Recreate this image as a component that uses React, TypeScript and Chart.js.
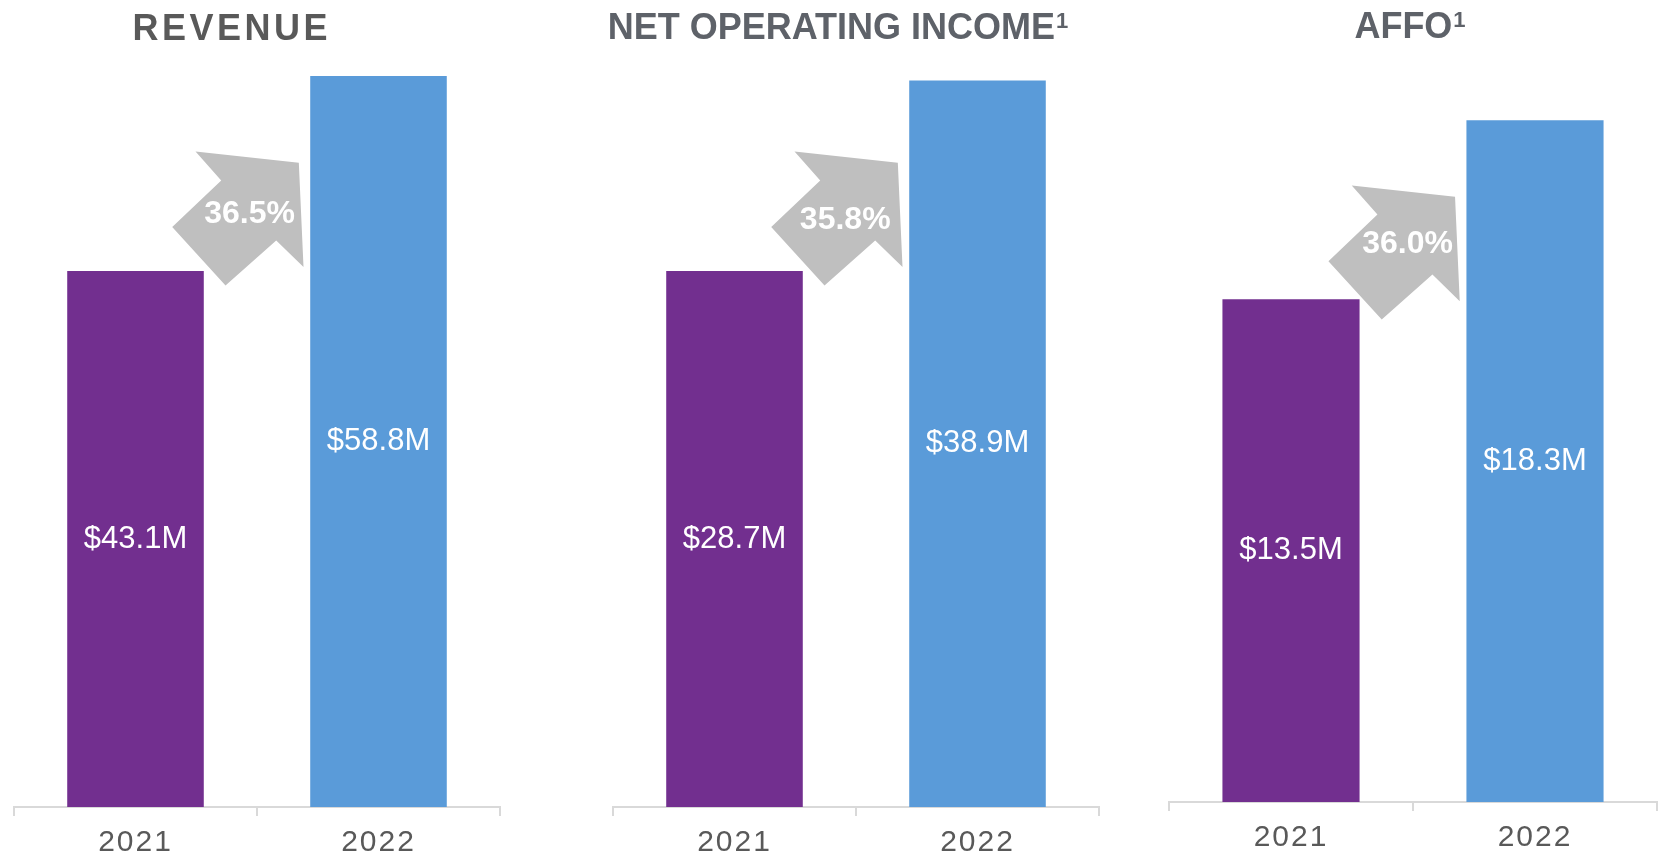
import React, { useEffect, useRef } from 'react';
import { Chart, registerables } from 'chart.js';

Chart.register(...registerables);

// ---- data ----
const categories = ['2021', '2022'];
const revenueValues = [43.1, 58.8];
const noiValues = [28.7, 38.9];
const affoValues = [13.5, 18.3];
const growthLabels = ['36.5%', '35.8%', '36.0%'];
const panelTitles = ['REVENUE', 'NET OPERATING INCOME', 'AFFO'];
const titleFootnotes = ['', '1', '1'];
const axisMax = [60, 40, 20];

// ---- styles ----
const FONT = '"Liberation Sans", Arial, Helvetica, sans-serif';
const BAR_COLORS = ['#722F8F', '#5A9BD9'];
const ARROW_COLOR = '#BFBFBF';
const AXIS_COLOR = '#D9D9D9';
const TICK_COLOR = '#595959';

// arrow polygon relative to (left edge of 2022 bar, top of 2021 bar)
const arrowShape: [number, number][] = [
  [-11.4, -108.3],
  [-6.7, -4],
  [-34, -30.6],
  [-84.7, 14.4],
  [-138, -44],
  [-89, -90.6],
  [-114.7, -119.6],
];

const layouts = [
  { left: 0, width: 520, padL: 14, padR: 20, padT: 61, padB: 0, titleDx: -27, titleY: 40, titleColor: '#595959', spacing: 3.5, pctDx: -60.7, pctDy: -57, arrowDy: 0 },
  { left: 560, width: 560, padL: 53, padR: 21, padT: 60, padB: 0, titleDx: -18, titleY: 39, titleColor: '#5E6269', spacing: 0, pctDx: -64, pctDy: -50.5, arrowDy: 0 },
  { left: 1130, width: 533, padL: 39, padR: 6, padT: 57, padB: 5, titleDx: -3, titleY: 37.5, titleColor: '#5E6269', spacing: 0, pctDx: -58.8, pctDy: -61, arrowDy: 6 },
];

function Panel({ index, values }: { index: number; values: number[] }) {
  const ref = useRef<HTMLCanvasElement>(null);
  useEffect(() => {
    const L = layouts[index];
    const decor = {
      id: 'decor' + index,
      beforeDraw(chart: any) {
        (chart.ctx as any).letterSpacing = '2px';
      },
      beforeDatasetsDraw(chart: any) {
        (chart.ctx as any).letterSpacing = '0px';
      },
      afterDatasetsDraw(chart: any) {
        const ctx = chart.ctx as CanvasRenderingContext2D;
        const meta = chart.getDatasetMeta(0);
        ctx.save();
        (ctx as any).letterSpacing = '0px';
        // value labels
        ctx.fillStyle = '#FFFFFF';
        ctx.font = `31px ${FONT}`;
        ctx.textAlign = 'center';
        ctx.textBaseline = 'middle';
        meta.data.forEach((bar: any, i: number) => {
          const p = bar.getProps(['x', 'y', 'base'], true);
          ctx.fillText(`$${values[i].toFixed(1)}M`, p.x, (p.y + p.base) / 2);
        });
        // growth arrow
        const p1 = meta.data[0].getProps(['x', 'y', 'width'], true);
        const p2 = meta.data[1].getProps(['x', 'y', 'width'], true);
        const ax = p2.x - p2.width / 2;
        const ay = p1.y + L.arrowDy;
        ctx.beginPath();
        arrowShape.forEach(([dx, dy], k) => {
          if (k === 0) ctx.moveTo(ax + dx, ay + dy);
          else ctx.lineTo(ax + dx, ay + dy);
        });
        ctx.closePath();
        ctx.fillStyle = ARROW_COLOR;
        ctx.fill();
        ctx.fillStyle = '#FFFFFF';
        ctx.font = `bold 32px ${FONT}`;
        ctx.fillText(growthLabels[index], ax + L.pctDx, ay + L.pctDy);
        // title
        const area = chart.chartArea;
        const cx = (area.left + area.right) / 2 + L.titleDx;
        ctx.textBaseline = 'alphabetic';
        ctx.textAlign = 'left';
        ctx.font = `bold 36px ${FONT}`;
        (ctx as any).letterSpacing = `${L.spacing}px`;
        const main = panelTitles[index];
        const wMain = ctx.measureText(main).width - L.spacing;
        (ctx as any).letterSpacing = '0px';
        ctx.font = `bold 22px ${FONT}`;
        const foot = titleFootnotes[index];
        const gap = 1;
        const wFoot = foot ? ctx.measureText(foot).width + gap : 0;
        const startX = cx - (wMain + wFoot) / 2;
        ctx.fillStyle = L.titleColor;
        ctx.font = `bold 36px ${FONT}`;
        (ctx as any).letterSpacing = `${L.spacing}px`;
        ctx.fillText(main, startX, L.titleY);
        (ctx as any).letterSpacing = '0px';
        if (foot) {
          ctx.font = `bold 22px ${FONT}`;
          ctx.fillText(foot, startX + wMain + gap, L.titleY - 11);
        }
        ctx.restore();
      },
    };

    const chart = new Chart(ref.current!, {
      type: 'bar',
      data: {
        labels: categories,
        datasets: [
          {
            data: values,
            backgroundColor: BAR_COLORS,
            borderWidth: 0,
            categoryPercentage: 1,
            barPercentage: 0.562,
          },
        ],
      },
      options: {
        responsive: false,
        animation: false,
        layout: { padding: { left: L.padL, right: L.padR, top: L.padT, bottom: L.padB } },
        plugins: {
          legend: { display: false },
          tooltip: { enabled: false },
          title: { display: false },
        },
        scales: {
          x: {
            offset: true,
            grid: {
              display: true,
              offset: true,
              drawOnChartArea: false,
              drawTicks: true,
              tickLength: 9,
              color: AXIS_COLOR,
              lineWidth: 2,
            },
            border: { display: true, color: AXIS_COLOR, width: 2 },
            ticks: { color: TICK_COLOR, font: { family: FONT, size: 30 }, padding: 9 },
            afterFit: (s: any) => {
              s.height = 50;
            },
          },
          y: { display: false, min: 0, max: axisMax[index] },
        },
      },
      plugins: [decor],
    } as any);
    return () => chart.destroy();
  }, [index, values]);

  const L = layouts[index];
  return (
    <canvas
      ref={ref}
      width={L.width}
      height={857}
      style={{ position: 'absolute', left: L.left, top: 0, width: L.width, height: 857 }}
    />
  );
}

export default function App() {
  return (
    <div
      style={{
        position: 'fixed',
        left: 0,
        top: 0,
        width: 1663,
        height: 857,
        overflow: 'hidden',
        background: '#FFFFFF',
      }}
    >
      <Panel index={0} values={revenueValues} />
      <Panel index={1} values={noiValues} />
      <Panel index={2} values={affoValues} />
    </div>
  );
}
